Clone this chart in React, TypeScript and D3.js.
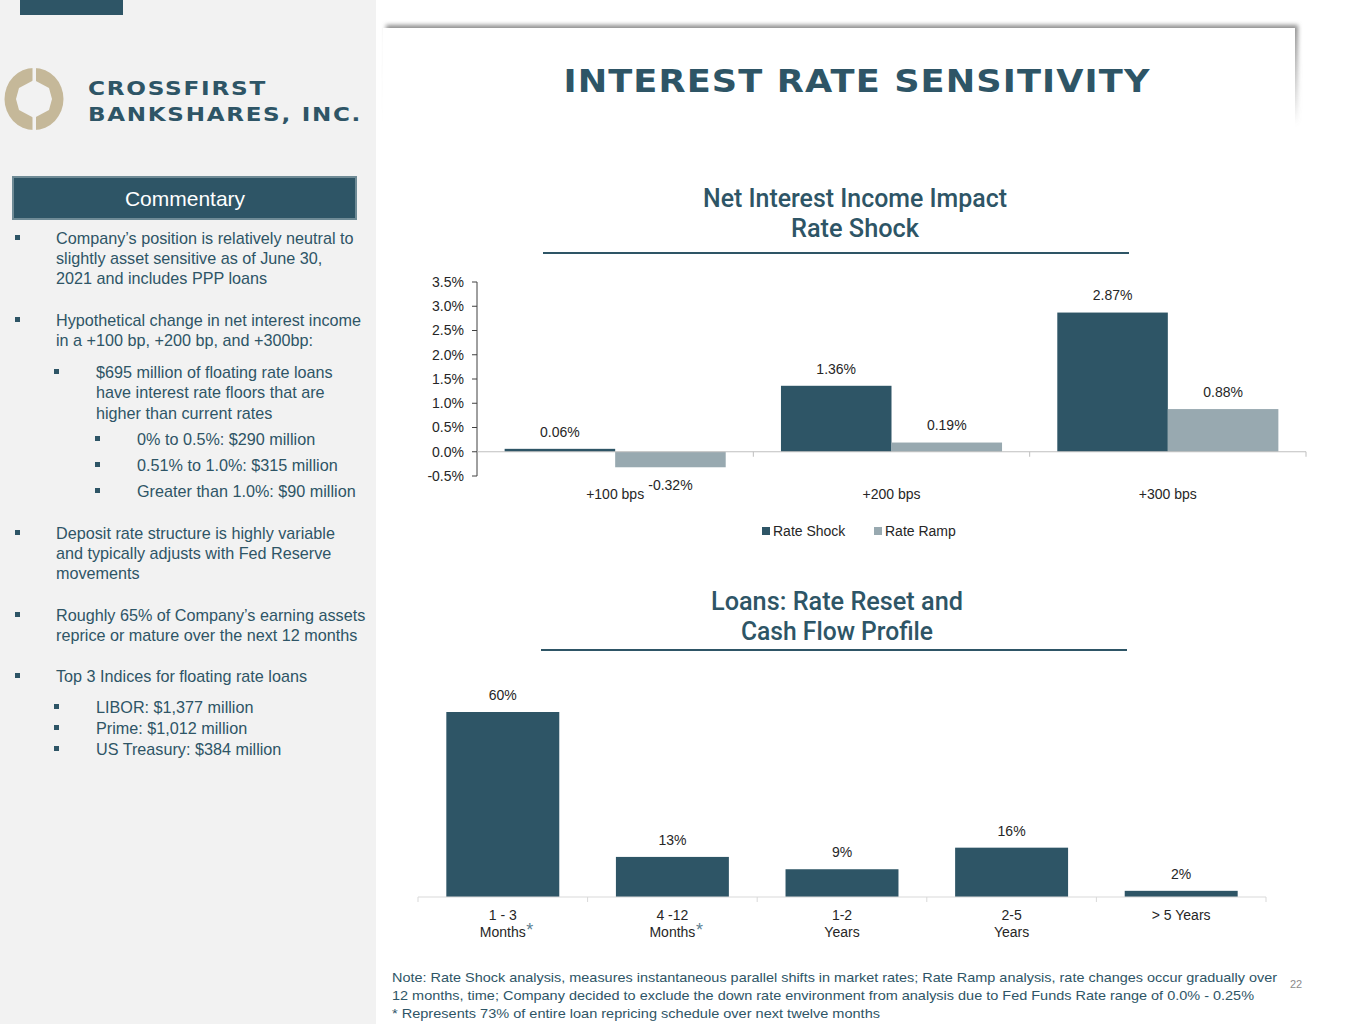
import React from 'react';
import * as d3 from 'd3';

// ---------- data ----------
const scenarios = ['+100 bps', '+200 bps', '+300 bps'];
const seriesNames = ['Rate Shock', 'Rate Ramp'];
const rateShock = [0.06, 1.36, 2.87];
const rateRamp = [-0.32, 0.19, 0.88];
const niiTicks = [-0.5, 0, 0.5, 1, 1.5, 2, 2.5, 3, 3.5];

const loanBucketLine1 = ['1 - 3', '4 -12', '1-2', '2-5', '> 5 Years'];
const loanBucketLine2 = ['Months', 'Months', 'Years', 'Years', ''];
const loanStars = [true, true, false, false, false];
const loanShares = [60, 13, 9, 16, 2];

type Line = { text: string; level: number; bullet: boolean; y: number };
const commentary: Line[] = [
  { text: 'Company\u2019s position is relatively neutral to', level: 0, bullet: true, y: 238 },
  { text: 'slightly asset sensitive as of June 30,', level: 0, bullet: false, y: 258 },
  { text: '2021 and includes PPP loans', level: 0, bullet: false, y: 278 },
  { text: 'Hypothetical change in net interest income', level: 0, bullet: true, y: 320 },
  { text: 'in a +100 bp, +200 bp, and +300bp:', level: 0, bullet: false, y: 340 },
  { text: '$695 million of floating rate loans', level: 1, bullet: true, y: 372 },
  { text: 'have interest rate floors that are', level: 1, bullet: false, y: 392 },
  { text: 'higher than current rates', level: 1, bullet: false, y: 413 },
  { text: '0% to 0.5%: $290 million', level: 2, bullet: true, y: 439 },
  { text: '0.51% to 1.0%: $315 million', level: 2, bullet: true, y: 465 },
  { text: 'Greater than 1.0%: $90 million', level: 2, bullet: true, y: 491 },
  { text: 'Deposit rate structure is highly variable', level: 0, bullet: true, y: 533 },
  { text: 'and typically adjusts with Fed Reserve', level: 0, bullet: false, y: 553 },
  { text: 'movements', level: 0, bullet: false, y: 573 },
  { text: 'Roughly 65% of Company\u2019s earning assets', level: 0, bullet: true, y: 615 },
  { text: 'reprice or mature over the next 12 months', level: 0, bullet: false, y: 635 },
  { text: 'Top 3 Indices for floating rate loans', level: 0, bullet: true, y: 676 },
  { text: 'LIBOR: $1,377 million', level: 1, bullet: true, y: 707 },
  { text: 'Prime: $1,012 million', level: 1, bullet: true, y: 728 },
  { text: 'US Treasury: $384 million', level: 1, bullet: true, y: 749 },
];

const footnotes = [
  'Note: Rate Shock analysis, measures instantaneous parallel shifts in market rates; Rate Ramp analysis, rate changes occur gradually over',
  '12 months, time;  Company decided to exclude the down rate environment from analysis due to Fed Funds Rate range of 0.0% - 0.25%',
  '* Represents 73% of entire loan repricing schedule over next twelve months',
];

// ---------- style ----------
const TEAL = '#2e5566';
const RAMP = '#98a9b0';
const TXT = '#262626';
const FONT = '"Liberation Sans", Arial, sans-serif';
const WIDE = '"DejaVu Sans", sans-serif';
const TITLEF = 'Roboto, "Noto Sans", sans-serif';

const hy = (s: string) => s.replace('\u2212', '-');

export default function App() {
  // ---- top chart scales ----
  const x0 = d3.scaleBand<string>().domain(scenarios).range([477, 1306]).paddingInner(0.2).paddingOuter(0.1);
  const x1 = d3.scaleBand<string>().domain(seriesNames).range([0, x0.bandwidth()]);
  const y = d3.scaleLinear().domain([-0.5, 3.5]).range([476, 282]);
  const series = [rateShock, rateRamp];
  const colors = d3.scaleOrdinal<string, string>().domain(seriesNames).range([TEAL, RAMP]);
  const step0 = x0.step();
  const bounds0 = d3.range(scenarios.length + 1).map((i) => 477 + i * step0);

  // ---- bottom chart scales ----
  const lx = d3.scaleBand<string>().domain(loanBucketLine1).range([418, 1266]).paddingInner(0.334).paddingOuter(0.167);
  const ly = d3.scaleLinear().domain([0, 60]).range([897, 712]);
  const lstep = lx.step();
  const lbounds = d3.range(loanBucketLine1.length + 1).map((i) => 418 + i * lstep);

  const fmt = (v: number) => hy(d3.format('.2f')(v)) + '%';
  const tickFmt = (v: number) => hy(d3.format('.1f')(v)) + '%';

  const indent = [56, 96, 137];
  const bulletX = [15, 54, 95];

  return (
    <svg width={1365} height={1024} viewBox="0 0 1365 1024" style={{ position: 'absolute', left: 0, top: 0, background: '#fff' }}>
      <defs>
        <filter id="shadow" x="-5%" y="-30%" width="110%" height="160%">
          <feGaussianBlur stdDeviation="2" />
        </filter>
        <linearGradient id="fadeR" x1="0" y1="0" x2="0" y2="1">
          <stop offset="0" stopColor="#8c8c8c" />
          <stop offset="1" stopColor="#8c8c8c" stopOpacity="0" />
        </linearGradient>
      </defs>

      {/* left panel */}
      <rect x={0} y={0} width={376} height={1024} fill="#f2f2f2" />
      <rect x={20} y={0} width={103} height={15} fill={TEAL} />

      {/* logo */}
      <g>
        <ellipse cx={34} cy={99} rx={29.5} ry={31} fill="#c5b899" />
        <path d="M34,80 L49,88 L52,99 L49,110 L34,118 L19,110 L16,99 L19,88 Z" fill="#f2f2f2" />
        <rect x={32.5} y={66} width={3.5} height={66} fill="#f2f2f2" />
        <text x={88} y={95} fontFamily={WIDE} fontWeight="bold" fontSize={20} letterSpacing={1.5} fill={TEAL} textLength={179} lengthAdjust="spacingAndGlyphs">CROSSFIRST</text>
        <text x={88} y={121} fontFamily={WIDE} fontWeight="bold" fontSize={20} letterSpacing={1.5} fill={TEAL} textLength={274} lengthAdjust="spacingAndGlyphs">BANKSHARES, INC.</text>
      </g>

      {/* title box */}
      <rect x={386} y={25} width={912} height={100} fill="url(#fadeR)" filter="url(#shadow)" />
      <rect x={383} y={28} width={912} height={110} fill="#fff" />
      <text x={857} y={92} textAnchor="middle" fontFamily={WIDE} fontWeight="bold" fontSize={32} letterSpacing={1} fill={TEAL} textLength={587} lengthAdjust="spacingAndGlyphs">INTEREST RATE SENSITIVITY</text>

      {/* commentary */}
      <rect x={13} y={177} width={343} height={42} fill={TEAL} stroke="#6f8b96" strokeWidth={2} />
      <text x={185} y={199} dy="0.35em" textAnchor="middle" fontFamily={FONT} fontSize={21} fill="#fff">Commentary</text>
      {commentary.map((l, i) => (
        <g key={i}>
          {l.bullet && <rect x={bulletX[l.level]} y={l.y - 3} width={5} height={5} fill={TEAL} />}
          <text x={indent[l.level]} y={l.y} dy="0.35em" fontFamily={FONT} fontSize={16.2} fill={TEAL}>{l.text}</text>
        </g>
      ))}

      {/* ---------- top chart ---------- */}
      <text x={855} y={198} dy="0.35em" textAnchor="middle" fontFamily={TITLEF} fontWeight={500} fontSize={25} fill={TEAL} textLength={304} lengthAdjust="spacingAndGlyphs">Net Interest Income Impact</text>
      <text x={855} y={228} dy="0.35em" textAnchor="middle" fontFamily={TITLEF} fontWeight={500} fontSize={25} fill={TEAL} textLength={128} lengthAdjust="spacingAndGlyphs">Rate Shock</text>
      <line x1={543} x2={1129} y1={253} y2={253} stroke={TEAL} strokeWidth={2} />

      {/* y axis */}
      <line x1={477} x2={477} y1={y(3.5)} y2={y(-0.5)} stroke="#404040" strokeWidth={1} />
      {niiTicks.map((t) => (
        <g key={t}>
          <line x1={472} x2={477} y1={y(t)} y2={y(t)} stroke="#404040" />
          <text x={464} y={y(t)} dy="0.35em" textAnchor="end" fontFamily={FONT} fontSize={14} fill={TXT}>{tickFmt(t)}</text>
        </g>
      ))}

      {/* bars */}
      {scenarios.map((s, i) => (
        <g key={s} transform={`translate(${x0(s)},0)`}>
          {seriesNames.map((n, j) => {
            const v = series[j][i];
            const top = y(Math.max(0, v));
            const h = Math.abs(y(v) - y(0));
            const lx1 = (x1(n) as number) + x1.bandwidth() / 2;
            const labY = v >= 0 ? y(v) - 17 : y(v) + 17.5;
            return (
              <g key={n}>
                <rect x={x1(n)} y={top} width={x1.bandwidth()} height={h} fill={colors(n)} />
                <text x={lx1} y={labY} dy="0.35em" textAnchor="middle" fontFamily={FONT} fontSize={14} fill={TXT}>{fmt(v)}</text>
              </g>
            );
          })}
        </g>
      ))}
      {/* x axis */}
      <line x1={477} x2={1306} y1={y(0)} y2={y(0)} stroke="#bfbfbf" strokeWidth={1.2} />
      {bounds0.slice(1).map((b, i) => (
        <line key={i} x1={b} x2={b} y1={y(0)} y2={y(0) + 5} stroke="#bfbfbf" />
      ))}
      {scenarios.map((s) => (
        <text key={s} x={(x0(s) as number) + x0.bandwidth() / 2} y={494} dy="0.35em" textAnchor="middle" fontFamily={FONT} fontSize={14} fill={TXT}>{s}</text>
      ))}

      {/* legend */}
      {seriesNames.map((n, j) => {
        const lx0 = [762, 874][j];
        return (
          <g key={n}>
            <rect x={lx0} y={527} width={8} height={8} fill={colors(n)} />
            <text x={lx0 + 11} y={531} dy="0.35em" fontFamily={FONT} fontSize={14} fill={TXT}>{n}</text>
          </g>
        );
      })}

      {/* ---------- bottom chart ---------- */}
      <text x={837} y={601} dy="0.35em" textAnchor="middle" fontFamily={TITLEF} fontWeight={500} fontSize={25} fill={TEAL} textLength={252} lengthAdjust="spacingAndGlyphs">Loans: Rate Reset and</text>
      <text x={837} y={631} dy="0.35em" textAnchor="middle" fontFamily={TITLEF} fontWeight={500} fontSize={25} fill={TEAL} textLength={192} lengthAdjust="spacingAndGlyphs">Cash Flow Profile</text>
      <line x1={541} x2={1127} y1={650} y2={650} stroke={TEAL} strokeWidth={2} />

      {loanBucketLine1.map((c, i) => {
        const bx = lx(c) as number;
        const cx = bx + lx.bandwidth() / 2;
        const v = loanShares[i];
        return (
          <g key={c}>
            <rect x={bx} y={ly(v)} width={lx.bandwidth()} height={ly(0) - ly(v)} fill={TEAL} />
            <text x={cx} y={ly(v) - 17} dy="0.35em" textAnchor="middle" fontFamily={FONT} fontSize={14} fill={TXT}>{v}%</text>
            <text x={cx} y={915} dy="0.35em" textAnchor="middle" fontFamily={FONT} fontSize={14} fill={TXT}>{c}</text>
            {loanBucketLine2[i] && (
              <text x={cx} y={932} dy="0.35em" textAnchor="middle" fontFamily={FONT} fontSize={14} fill={TXT}>{loanBucketLine2[i]}</text>
            )}
            {loanStars[i] && (
              <text x={cx + 23.5} y={930} dy="0.35em" fontFamily={FONT} fontSize={18} fill="#5d8193">*</text>
            )}
          </g>
        );
      })}
      <line x1={418} x2={1266} y1={897} y2={897} stroke="#d9d9d9" strokeWidth={1.2} />
      {lbounds.map((b, i) => (
        <line key={i} x1={b} x2={b} y1={897} y2={902} stroke="#d9d9d9" />
      ))}

      {/* footnotes */}
      {footnotes.map((f, i) => (
        <text key={i} x={392} y={977 + i * 18} dy="0.35em" fontFamily={FONT} fontSize={13.5} fill={TEAL}
          textLength={[885, 862, 488][i]} lengthAdjust="spacingAndGlyphs">{f}</text>
      ))}
      <text x={1296} y={984} dy="0.35em" textAnchor="middle" fontFamily={FONT} fontSize={11} fill="#8c8c8c">22</text>
    </svg>
  );
}
